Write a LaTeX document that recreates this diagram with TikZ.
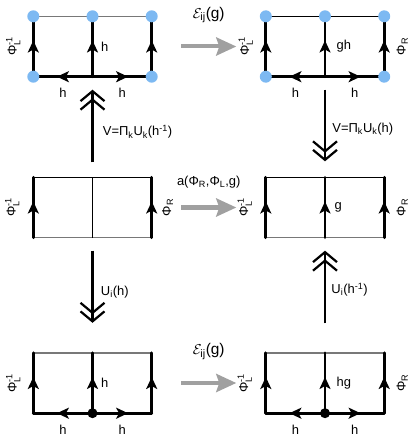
\documentclass[tikz,border=0pt]{standalone}
\usepackage{amsmath}
\usepackage{fontspec}
\setmainfont{Liberation Sans}
\usetikzlibrary{arrows.meta,decorations.markings,positioning}

\definecolor{dotblue}{RGB}{125,185,242}
\definecolor{movegray}{RGB}{160,160,160}
\definecolor{edgegray}{RGB}{120,120,120}

\tikzset{
  box/.style={minimum width=118bp, minimum height=60bp, inner sep=0pt},
  heavy/.style={line width=2.7bp, line cap=round},
  lightedge/.style={line width=1.5bp},
  hairline/.style={line width=1bp},
  midarrow/.style={postaction={decorate}, decoration={markings,
      mark=at position 0.5 with {\pgftransformxshift{6bp}\arrow{Stealth[length=12bp,width=11bp,inset=3bp]}}}},
  move/.style={line width=2.2bp,
      -{Straight Barb[length=10bp,width=24bp,line width=2.2bp,sep=-4bp] Straight Barb[length=10bp,width=24bp,line width=2.2bp]}},
  shiftarrow/.style={line width=4bp, movegray, shorten <=29.5bp, shorten >=29.5bp,
      -{Stealth[length=20bp,width=18bp,inset=3bp]}},
  philab/.style={rotate=90, inner sep=1bp},
  bigfont/.style={font=\fontsize{15.5}{17}\selectfont}
}

\begin{document}
\begin{tikzpicture}[x=1bp, y=-1bp, every node/.style={font=\fontsize{13}{15}\selectfont}]
  \useasboundingbox (0,0) rectangle (416,440);

  % the six plaquettes
  \node[box] (tl) at (92.5,46.5)  {};
  \node[box] (tr) at (325,46.5)   {};
  \node[box] (ml) at (92.5,207.5) {};
  \node[box] (mr) at (325,207.5)  {};
  \node[box] (bl) at (92.5,383)   {};
  \node[box] (br) at (325,383)    {};

  % top left
  \draw[lightedge, edgegray] (tl.north west) -- (tl.north east);
  \draw[heavy, midarrow] (tl.south west) -- (tl.north west);
  \draw[heavy, midarrow] (tl.south) -- node[right=4bp] {h} (tl.north);
  \draw[heavy, midarrow] (tl.south east) -- (tl.north east);
  \draw[heavy, midarrow] (tl.south) -- node[below=7bp] {h} (tl.south west);
  \draw[heavy, midarrow] (tl.south) -- node[below=7bp] {h} (tl.south east);
  \foreach \a in {north west,north,north east,south west,south east}
    \fill[dotblue] (tl.\a) circle (6bp);
  \node[philab] at ([xshift=-20bp]tl.west) {Φ$_\text{L}^\text{-1}$};

  % top right
  \draw[lightedge] (tr.north west) -- (tr.north east);
  \draw[heavy, midarrow] (tr.south west) -- (tr.north west);
  \draw[heavy, midarrow] (tr.south) -- node[right=7bp] {gh} (tr.north);
  \draw[heavy, midarrow] (tr.south east) -- (tr.north east);
  \draw[heavy, midarrow] (tr.south) -- node[below=7bp] {h} (tr.south west);
  \draw[heavy, midarrow] (tr.south) -- node[below=7bp] {h} (tr.south east);
  \foreach \a in {north west,north,north east,south west,south east}
    \fill[dotblue] (tr.\a) circle (6bp);
  \node[philab] at ([xshift=-20bp]tr.west) {Φ$_\text{L}^\text{-1}$};
  \node[philab] at ([xshift=18bp]tr.east) {Φ$_\text{R}$};

  % middle left
  \draw[lightedge] (ml.north west) -- (ml.north east);
  \draw[lightedge, edgegray] (ml.south west) -- (ml.south east);
  \draw[hairline] (ml.south) -- (ml.north);
  \draw[heavy, midarrow] (ml.south west) -- (ml.north west);
  \draw[heavy, midarrow] (ml.south east) -- (ml.north east);
  \node[philab] at ([xshift=-21bp]ml.west) {Φ$_\text{L}^\text{-1}$};
  \node[philab] at ([xshift=16bp]ml.east) {Φ$_\text{R}$};

  % middle right
  \draw[lightedge] (mr.north west) -- (mr.north east);
  \draw[lightedge, edgegray] (mr.south west) -- (mr.south east);
  \draw[heavy, midarrow] (mr.south west) -- (mr.north west);
  \draw[heavy, midarrow] (mr.south) -- node[right=5bp] {g} (mr.north);
  \draw[heavy, midarrow] (mr.south east) -- (mr.north east);
  \node[philab] at ([xshift=-21bp]mr.west) {Φ$_\text{L}^\text{-1}$};
  \node[philab] at ([xshift=18bp]mr.east) {Φ$_\text{R}$};

  % bottom left
  \draw[lightedge, edgegray] (bl.north west) -- (bl.north east);
  \draw[heavy, midarrow] (bl.south west) -- (bl.north west);
  \draw[heavy, midarrow] (bl.south) -- node[right=4bp] {h} (bl.north);
  \draw[heavy, midarrow] (bl.south east) -- (bl.north east);
  \draw[heavy, midarrow] (bl.south) -- node[below=7bp] {h} (bl.south west);
  \draw[heavy, midarrow] (bl.south) -- node[below=7bp] {h} (bl.south east);
  \fill (bl.south) circle (5bp);
  \node[philab] at ([xshift=-20bp]bl.west) {Φ$_\text{L}^\text{-1}$};

  % bottom right
  \draw[lightedge, edgegray] (br.north west) -- (br.north east);
  \draw[heavy, midarrow] (br.south west) -- (br.north west);
  \draw[heavy, midarrow] (br.south) -- node[right=7bp] {hg} (br.north);
  \draw[heavy, midarrow] (br.south east) -- (br.north east);
  \draw[heavy, midarrow] (br.south) -- node[below=7bp] {h} (br.south west);
  \draw[heavy, midarrow] (br.south) -- node[below=7bp] {h} (br.south east);
  \fill (br.south) circle (5bp);
  \node[philab] at ([xshift=-21bp]br.west) {Φ$_\text{L}^\text{-1}$};
  \node[philab] at ([xshift=18bp]br.east) {Φ$_\text{R}$};

  % gauge moves
  \draw[move, shorten <=15bp, shorten >=13bp] (ml.north) -- node[right=6bp, pos=0.45] {V=Π$_\text{k}$U$_\text{k}$(h$^\text{-1}$)} (tl.south);
  \draw[move, shorten <=13bp, shorten >=30bp] (ml.south) -- node[right=4bp, pos=0.47] {U$_\text{i}$(h)} (bl.north);
  \draw[move, shorten <=13bp, shorten >=16bp] (tr.south) -- node[right=3bp, pos=0.52] {V=Π$_\text{k}$U$_\text{k}$(h)} (mr.north);
  \draw[move, shorten <=29.5bp, shorten >=13bp] (br.north) -- node[right=2bp, pos=0.55] {U$_\text{i}$(h$^\text{-1}$)} (mr.south);

  % F-moves
  \draw[shiftarrow] (tl.east) -- node[above=18bp, black, bigfont] {$\mathcal{E}_\text{ij}$(g)} (tr.west);
  \draw[shiftarrow] (ml.east) -- node[above=14bp, black] {a(Φ$_\text{R}$,Φ$_\text{L}$,g)} (mr.west);
  \draw[shiftarrow] (bl.east) -- node[above=18bp, black, bigfont] {$\mathcal{E}_\text{ij}$(g)} (br.west);
\end{tikzpicture}
\end{document}
